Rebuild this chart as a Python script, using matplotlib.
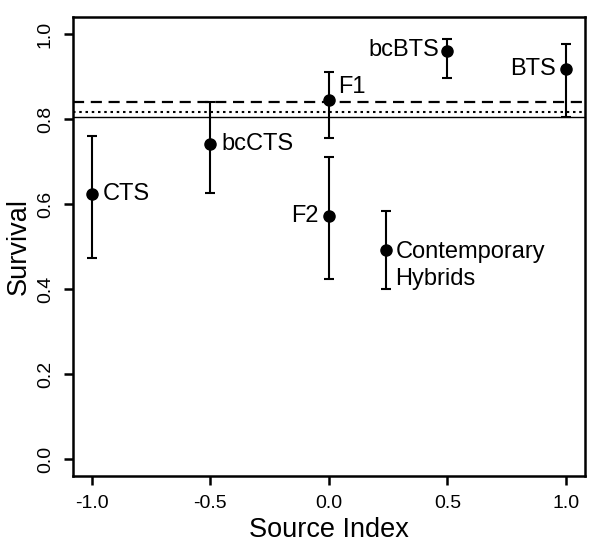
import numpy as np
import matplotlib.pyplot as plt

plt.rcParams['font.family'] = ['Liberation Sans', 'DejaVu Sans']

# group estimates
groups = ['CTS', 'bcCTS', 'F1', 'F2', 'Contemporary\nHybrids', 'bcBTS', 'BTS']
source_index = [-1.0, -0.5, 0.0, 0.0, 0.24, 0.5, 1.0]
survival = [0.624, 0.741, 0.844, 0.572, 0.492, 0.960, 0.917]
upper = [0.760, 0.840, 0.910, 0.711, 0.584, 0.988, 0.978]
lower = [0.474, 0.627, 0.756, 0.423, 0.400, 0.897, 0.804]

# reference lines
ref_dashed = 0.840
ref_dotted = 0.818
ref_solid = 0.806

# label placement (offset in points, horizontal alignment)
label_pos = {
    'CTS': ((8, 0), 'left'),
    'bcCTS': ((8, 0), 'left'),
    'F1': ((7, 10), 'left'),
    'F2': ((-7, 0), 'right'),
    'Contemporary\nHybrids': ((7, -11), 'left'),
    'bcBTS': ((-6, 1), 'right'),
    'BTS': ((-7, 0), 'right'),
}

fig = plt.figure(figsize=(6, 5.56), dpi=100)
ax = fig.add_axes([0.121, 0.144, 0.854, 0.825])

x = np.array(source_index)
y = np.array(survival)
yerr = [y - np.array(lower), np.array(upper) - y]

ax.axhline(ref_dashed, color='black', lw=1.6, ls=(0, (5, 3)))
ax.axhline(ref_dotted, color='black', lw=1.5, ls=(0, (1.2, 1.8)))
ax.axhline(ref_solid, color='black', lw=1.0)

ax.errorbar(x, y, yerr=yerr, fmt='o', color='black', ms=8,
            elinewidth=1.5, capsize=3.5, capthick=1.5, zorder=3)

for g, xi, yi in zip(groups, x, y):
    off, ha = label_pos[g]
    ax.annotate(g, (xi, yi), xytext=off, textcoords='offset points',
                ha=ha, va='center', fontsize=17, linespacing=1.3)

ax.set_xlim(-1.08, 1.08)
ax.set_ylim(-0.04, 1.04)
ax.set_xticks([-1.0, -0.5, 0.0, 0.5, 1.0])
ax.set_xticklabels(['-1.0', '-0.5', '0.0', '0.5', '1.0'])
ax.set_yticks([0.0, 0.2, 0.4, 0.6, 0.8, 1.0])
ax.set_yticklabels(['0.0', '0.2', '0.4', '0.6', '0.8', '1.0'], rotation=90, va='center')
ax.tick_params(direction='out', length=6.5, width=1.8, labelsize=14, pad=7)
for s in ax.spines.values():
    s.set_linewidth(1.8)

ax.set_xlabel('Source Index', fontsize=19.5, labelpad=4)
ax.set_ylabel('Survival', fontsize=19.5, labelpad=4)

fig.savefig('out.png', dpi=100)
